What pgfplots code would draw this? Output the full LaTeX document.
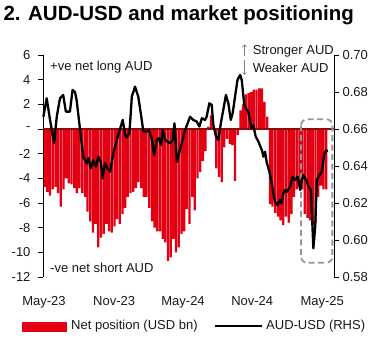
\documentclass[border=0pt]{standalone}
\usepackage{pgfplots}
\pgfplotsset{compat=1.18}
\usepackage{pgfplotstable}
\usetikzlibrary{arrows.meta}
\usepackage{fontspec}
\setmainfont{Liberation Sans}
\definecolor{barred}{RGB}{226,0,18}
\definecolor{zerored}{RGB}{140,10,10}
\definecolor{boxgray}{RGB}{150,150,150}
\definecolor{txt}{RGB}{25,25,25}

\pgfplotstableread{
i v
0 -4.7
1 -5.1
2 -5.4
3 -4.9
4 -4.7
5 -5.2
6 -6.3
7 -4.9
8 -4.0
9 -4.4
10 -4.5
11 -4.8
12 -5.2
13 -4.8
14 -5.2
15 -5.5
16 -6.7
17 -7.5
18 -8.4
19 -7.7
20 -9.6
21 -8.8
22 -8.5
23 -7.7
24 -8.3
25 -8.4
26 -7.9
27 -7.3
28 -7.7
29 -6.9
30 -6.4
31 -5.5
32 -5.2
33 -5.1
34 -4.8
35 -4.3
36 -4.8
37 -5.5
38 -5.5
39 -6.4
40 -7.5
41 -8.0
42 -8.3
43 -8.3
44 -8.9
45 -9.2
46 -10.7
47 -10.4
48 -8.9
49 -10.0
50 -9.6
51 -8.5
52 -8.3
53 -6.5
54 -7.7
55 -5.5
56 -6.6
57 -4.0
58 -3.5
59 -2.6
60 -1.8
61 0.2
62 1.1
63 0.2
64 -3.2
65 -3.9
66 -4.3
67 -1.5
68 -0.8
69 -1.2
70 -1.3
71 -4.2
72 -0.5
73 1.5
74 2.0
75 2.8
76 2.9
77 3.0
78 3.2
79 3.2
80 3.3
81 3.3
82 2.2
83 1.0
84 -6.1
85 -6.3
86 -6.8
87 -7.1
88 -7.4
89 -7.8
90 -7.1
91 -7.6
92 -6.9
93 -5.5
94 -4.9
95 -4.4
96 -4.9
97 -6.9
98 -7.2
99 -7.4
100 -7.8
101 -7.6
102 -5.5
103 -4.6
104 -4.9
105 -4.9
}\netpos

\pgfplotstableread{
i v
-0.5 0.6666
0.75 0.6766
2.0 0.6649
3.5 0.6523
4.5 0.6666
5.7 0.6766
6.9 0.6784
7.9 0.6694
9.4 0.6694
10.4 0.6811
11.3 0.6800
11.9 0.6757
13.2 0.6595
14.4 0.6450
15.7 0.6415
16.3 0.6442
17.2 0.6387
18.1 0.6432
19.1 0.6396
20.0 0.6450
20.9 0.6423
21.6 0.6333
22.5 0.6414
23.4 0.6387
24.4 0.6369
25.6 0.6469
27.1 0.6551
29.1 0.6649
30.0 0.6568
30.6 0.6555
31.6 0.6577
32.5 0.6775
33.7 0.6829
34.9 0.6775
36.2 0.6649
36.8 0.6586
38.1 0.6586
38.9 0.6595
39.9 0.6550
40.8 0.6460
41.8 0.6541
42.6 0.6550
43.4 0.6514
44.0 0.6595
44.9 0.6541
45.8 0.6532
46.8 0.6523
47.8 0.6541
48.4 0.6631
49.3 0.6423
50.5 0.6490
52.4 0.6595
54.2 0.6666
55.4 0.6649
56.7 0.6640
57.7 0.6613
58.6 0.6658
59.8 0.6649
60.4 0.6666
61.4 0.6739
62.3 0.6730
62.9 0.6622
63.9 0.6559
64.8 0.6541
65.8 0.6640
66.6 0.6703
67.6 0.6784
68.5 0.6739
69.4 0.6649
70.1 0.6685
71.0 0.6775
71.9 0.6865
72.9 0.6892
73.5 0.6865
74.4 0.6735
75.1 0.6712
75.9 0.6694
77.2 0.6600
77.8 0.6620
78.7 0.6559
79.7 0.6532
80.3 0.6510
81.0 0.6486
81.6 0.6450
82.2 0.6477
82.8 0.6420
83.8 0.6369
84.7 0.6306
85.3 0.6252
85.9 0.6207
86.8 0.6189
87.8 0.6216
88.4 0.6198
89.0 0.6252
89.7 0.6270
90.3 0.6261
91.5 0.6288
92.5 0.6342
93.4 0.6324
94.3 0.6342
95.3 0.6270
95.9 0.6324
96.5 0.6351
97.5 0.6324
98.4 0.6288
99.3 0.6270
100.2 0.5955
100.9 0.6072
101.5 0.6324
102.5 0.6351
103.4 0.6369
104.2 0.6460
105.0 0.6486
105.5 0.6477
}\audusd

\begin{document}
\begin{tikzpicture}[x=1pt,y=1pt]
\useasboundingbox (0,0) rectangle (381,339);
\pgfplotsset{
  common/.style={
    at={(43pt,62pt)}, anchor=south west,
    scale only axis, width=291pt, height=222pt,
    xmin=-0.63, xmax=107.9,
    tick align=outside, major tick length=5pt,
    every tick/.style={black, line width=0.8pt},
    axis line style={black, line width=0.8pt},
    ticklabel style={font=\fontsize{13}{15}\selectfont, text=txt},
    clip=false,
  }
}
\begin{axis}[common,
  ymin=-12, ymax=6,
  axis y line*=left, axis x line*=bottom,
  x axis line style={draw=none},
  xtick style={draw=none},
  xtick={-0.26,25.9,51.6,77.4,103.5},
  xticklabels={May-23,Nov-23,May-24,Nov-24,May-25},
  xticklabel style={yshift=-11pt},
  ytick={-12,-10,-8,-6,-4,-2,0,2,4,6},
  yticklabels={-12,-10,-8,-6,-4,-2,-,2,4,6},
  yticklabel style={xshift=-4pt},
]
\addplot[ybar, bar width=2.3pt, bar shift=0pt, fill=barred, draw=none] table[x=i,y=v]{\netpos};
\draw[zerored, line width=1.3pt] (axis cs:-0.63,0) -- (axis cs:107.9,0);
\draw[boxgray, line width=1.8pt, dash pattern=on 6pt off 3.5pt, rounded corners=6pt]
  (axis cs:95.6,0.79) rectangle (axis cs:107.3,-10.84);
\end{axis}
\begin{axis}[common,
  ymin=0.58, ymax=0.70,
  axis y line*=right, axis x line=none,
  ytick={0.58,0.60,0.62,0.64,0.66,0.68,0.70},
  yticklabels={0.58,0.60,0.62,0.64,0.66,0.68,0.70},
  yticklabel style={xshift=0pt},
]
\addplot[black, line width=2.3pt, line join=round] table[x=i,y=v]{\audusd};
\end{axis}
% title
\node[anchor=base west, inner sep=0pt, font=\fontsize{20.5}{24}\selectfont\bfseries] at (3.3,318.3) {2. AUD-USD and market positioning};
% annotations
\node[anchor=base west, inner sep=0pt, text=txt, font=\fontsize{13}{15}\selectfont] at (50,268.5) {+ve net long AUD};
\node[anchor=base west, inner sep=0pt, text=txt, font=\fontsize{13}{15}\selectfont] at (50,66) {-ve net short AUD};
\node[anchor=base west, inner sep=0pt, text=txt, font=\fontsize{13}{15}\selectfont] at (252.7,284.5) {Stronger AUD};
\node[anchor=base west, inner sep=0pt, text=txt, font=\fontsize{13}{15}\selectfont] at (252.7,266) {Weaker AUD};
\draw[gray, line width=0.6pt, -{Straight Barb[length=2pt]}] (244.5,282.5) -- (244.5,294.5);
\draw[gray, line width=0.6pt, -{Straight Barb[length=2pt]}] (244.5,279) -- (244.5,264);
% legend
\fill[barred] (21.7,7.3) rectangle (66.7,17.3);
\node[anchor=base west, inner sep=0pt, text=txt, font=\fontsize{13}{15}\selectfont] at (71,9.2) {Net position (USD bn)};
\draw[black, line width=2.3pt] (215,13.3) -- (261.7,13.3);
\node[anchor=base west, inner sep=0pt, text=txt, font=\fontsize{13}{15}\selectfont] at (266,9.2) {AUD-USD (RHS)};
\end{tikzpicture}
\end{document}
